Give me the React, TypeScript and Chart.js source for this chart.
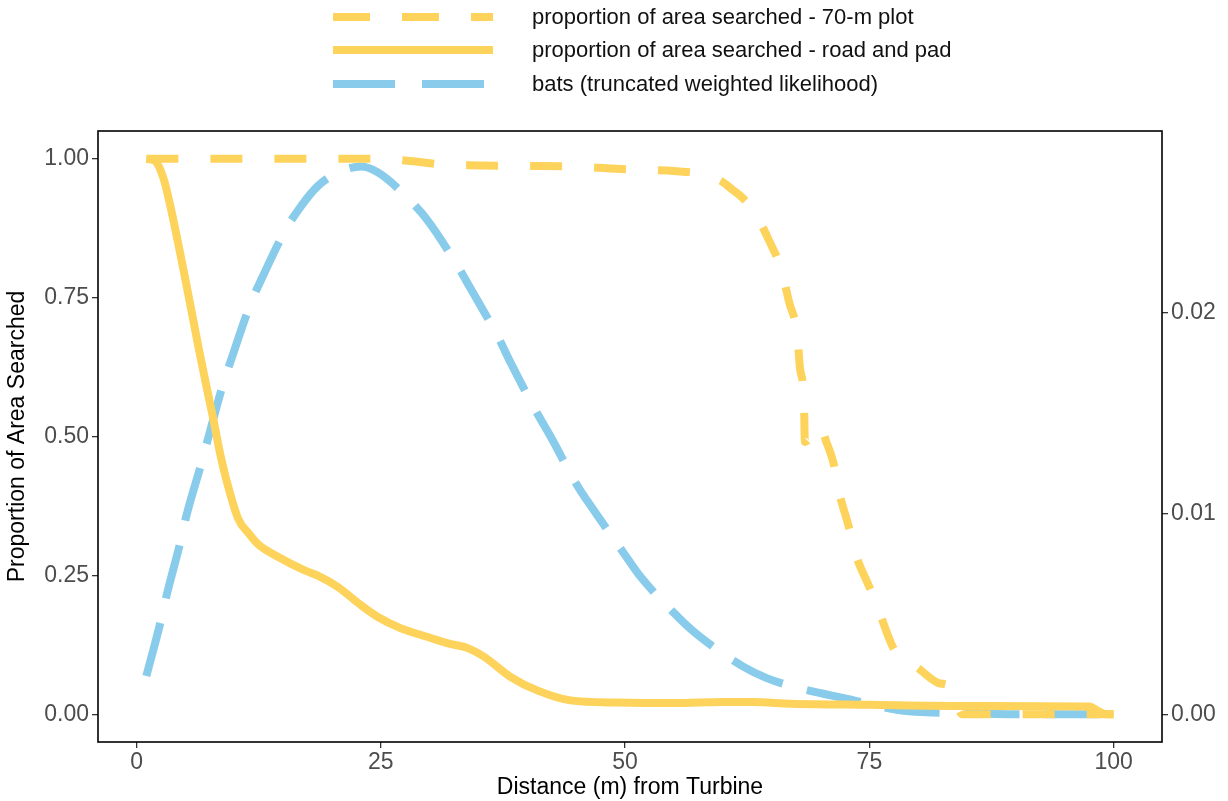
import React, { useEffect, useRef } from "react";
import { Chart, registerables } from "chart.js";

Chart.register(...registerables);

// ---- data -----------------------------------------------------------
const xTicks = [0, 25, 50, 75, 100];
const leftTicks = [0, 0.25, 0.5, 0.75, 1];
const rightTicks = [0, 0.01, 0.02];

const plot70Distance = [
  1, 24, 28, 31, 35, 40, 45, 50, 55, 58, 60, 61, 62, 63.2, 64.7, 66.0, 66.8,
  67.6, 67.9, 68.3, 68.4, 69.0, 69.9, 70.6, 71.3, 71.9, 72.9, 73.7, 75.0, 76.2,
  77.4, 78.3, 79.8, 82.1, 83.2, 83.9, 84.5, 100,
];
const plot70Proportion = [
  1, 1, 0.996, 0.99, 0.988, 0.987, 0.986, 0.981, 0.978, 0.972, 0.958, 0.944,
  0.93, 0.905, 0.854, 0.8, 0.741, 0.686, 0.623, 0.566, 0.49, 0.5, 0.52, 0.49,
  0.454, 0.4, 0.337, 0.283, 0.229, 0.175, 0.121, 0.1, 0.085, 0.056, 0.05, 0.02,
  0, 0,
];

const roadDistance = [
  1, 1.9, 2.8, 3.6, 5.0, 6.3, 7.0, 7.9, 8.6, 9.1, 10.4, 11.5, 12.5, 14.5, 17.2,
  18.5, 20.6, 22.7, 24.7, 27, 29.8, 32, 33.9, 35.6, 38.3, 41.0, 44.4, 49.2, 55,
  60, 63, 67, 75, 85, 97.5, 98.6, 99.3, 100,
];
const roadProportion = [
  1, 0.996, 0.962, 0.903, 0.782, 0.664, 0.603, 0.527, 0.465, 0.428, 0.352,
  0.325, 0.305, 0.283, 0.259, 0.25, 0.229, 0.2, 0.175, 0.155, 0.139, 0.127,
  0.119, 0.103, 0.067, 0.043, 0.025, 0.021, 0.02, 0.022, 0.022, 0.019, 0.017,
  0.015, 0.014, 0.004, 0, 0,
];

const batsDistance = [
  1, 2.45, 3.06, 4.49, 5.1, 6.63, 7.35, 8.88, 9.7, 11.7, 12.8, 15.2, 16.8, 18.5,
  20.6, 23, 24.7, 28.0, 29.8, 32.9, 34.2, 37.1, 38.3, 41.0, 42.3, 45.1, 46.6,
  49.9, 51.5, 55.3, 57.3, 62, 64.5, 67, 70, 72.4, 78.1, 80.8, 86.2, 90, 100,
];
const batsLikelihood = [
  0.0019, 0.0046, 0.0059, 0.0086, 0.0099, 0.0125, 0.0138, 0.0165, 0.0177,
  0.0205, 0.0217, 0.0241, 0.0253, 0.0263, 0.027, 0.0273, 0.027, 0.0256, 0.0246,
  0.0223, 0.0212, 0.0187, 0.0175, 0.015, 0.0139, 0.0114, 0.0103, 0.008, 0.0069,
  0.0049, 0.004, 0.0024, 0.0018, 0.0014, 0.00105, 0.0008, 0.0002, 0.0001,
  0.00003, 0, 0,
];

const legendLabels = [
  "proportion of area searched - 70-m plot",
  "proportion of area searched - road and pad",
  "bats (truncated weighted likelihood)",
];

// ---- styling --------------------------------------------------------
const YELLOW = "#FDD35B";
const BLUE = "#88CBEA";
const FONT = "'Liberation Sans', Arial, Helvetica, sans-serif";
const W = 1228;
const H = 801;

const X_MIN = -3.95;
const X_MAX = 104.95;
const Y_MIN = -0.05;
const Y_MAX = 1.05;
const RIGHT_FACTOR = 555 / 20050;

const toPoints = (xs: number[], ys: number[]) =>
  xs.map((x, i) => ({ x, y: ys[i] }));

const legendItems = [
  { label: legendLabels[0], color: YELLOW, dash: [37, 32] },
  { label: legendLabels[1], color: YELLOW, dash: [] as number[] },
  { label: legendLabels[2], color: BLUE, dash: [62, 27] },
];

const framePlugin = {
  id: "frame",
  afterDatasetsDraw(chart: any) {
    const { ctx, chartArea } = chart;
    ctx.save();
    ctx.strokeStyle = "#000";
    ctx.lineWidth = 1.6;
    ctx.strokeRect(
      chartArea.left,
      chartArea.top,
      chartArea.right - chartArea.left,
      chartArea.bottom - chartArea.top
    );
    ctx.restore();
  },
};

const legendPlugin = {
  id: "customLegend",
  afterDraw(chart: any) {
    const { ctx } = chart;
    ctx.save();
    const rows = [17, 50, 84];
    legendItems.forEach((item, i) => {
      const y = rows[i];
      ctx.beginPath();
      ctx.setLineDash(item.dash);
      ctx.lineDashOffset = 0;
      ctx.lineCap = "butt";
      ctx.lineWidth = 8;
      ctx.strokeStyle = item.color;
      ctx.moveTo(333, y);
      ctx.lineTo(493, y);
      ctx.stroke();
      ctx.setLineDash([]);
      ctx.fillStyle = "#111";
      ctx.font = `22px ${FONT}`;
      ctx.textBaseline = "middle";
      ctx.textAlign = "left";
      ctx.fillText(item.label, 532, y + 1);
    });
    ctx.restore();
  },
};

export default function App() {
  const ref = useRef<HTMLCanvasElement | null>(null);

  useEffect(() => {
    if (!ref.current) return;
    const tickGrid = {
      display: true,
      drawOnChartArea: false,
      drawTicks: true,
      tickLength: 6,
      color: "#333333",
      lineWidth: 1.3,
    };
    const chart = new Chart(ref.current, {
      type: "line",
      data: {
        datasets: [
          {
            label: legendLabels[1],
            data: toPoints(roadDistance, roadProportion),
            borderColor: YELLOW,
            borderWidth: 8,
            pointRadius: 0,
            cubicInterpolationMode: "monotone",
            yAxisID: "y",
            order: 0,
            borderCapStyle: "butt",
            borderJoinStyle: "round",
          },
          {
            label: legendLabels[0],
            data: toPoints(plot70Distance, plot70Proportion),
            borderColor: YELLOW,
            borderWidth: 8,
            borderDash: [32, 32],
            pointRadius: 0,
            cubicInterpolationMode: "monotone",
            yAxisID: "y",
            order: 1,
            borderCapStyle: "butt",
            borderJoinStyle: "round",
          },
          {
            label: legendLabels[2],
            data: toPoints(batsDistance, batsLikelihood),
            borderColor: BLUE,
            borderWidth: 8,
            borderDash: [55, 25],
            pointRadius: 0,
            cubicInterpolationMode: "monotone",
            yAxisID: "y2",
            order: 2,
            borderCapStyle: "butt",
            borderJoinStyle: "round",
          },
        ],
      },
      options: {
        animation: false,
        responsive: false,
        maintainAspectRatio: false,
        layout: { padding: { top: 131, left: 0, right: 0, bottom: 0 } },
        plugins: {
          legend: { display: false },
          tooltip: { enabled: false },
        },
        scales: {
          x: {
            type: "linear",
            position: "bottom",
            min: X_MIN,
            max: X_MAX,
            afterFit: (s: any) => {
              s.height = 59;
            },
            afterBuildTicks: (s: any) => {
              s.ticks = xTicks.map((v) => ({ value: v }));
            },
            grid: tickGrid,
            border: { display: false },
            ticks: {
              color: "#4D4D4D",
              font: { family: FONT, size: 23 },
              padding: 1,
              maxRotation: 0,
              autoSkip: false,
              callback: (v: any) => String(v),
            },
            title: {
              display: true,
              text: "Distance (m) from Turbine",
              color: "#000",
              font: { family: FONT, size: 23 },
              padding: { top: 0, bottom: 0 },
            },
          },
          y: {
            type: "linear",
            position: "left",
            min: Y_MIN,
            max: Y_MAX,
            afterFit: (s: any) => {
              s.width = 98;
            },
            afterBuildTicks: (s: any) => {
              s.ticks = leftTicks.map((v) => ({ value: v }));
            },
            grid: tickGrid,
            border: { display: false },
            ticks: {
              color: "#4D4D4D",
              font: { family: FONT, size: 23 },
              padding: 3,
              autoSkip: false,
              callback: (v: any) => Number(v).toFixed(2),
            },
            title: {
              display: true,
              text: "Proportion of Area Searched",
              color: "#000",
              font: { family: FONT, size: 23 },
              padding: { top: 4, bottom: 0 },
            },
          },
          y2: {
            type: "linear",
            position: "right",
            min: Y_MIN * RIGHT_FACTOR,
            max: Y_MAX * RIGHT_FACTOR,
            afterFit: (s: any) => {
              s.width = 66;
            },
            afterBuildTicks: (s: any) => {
              s.ticks = rightTicks.map((v) => ({ value: v }));
            },
            grid: tickGrid,
            border: { display: false },
            ticks: {
              color: "#4D4D4D",
              font: { family: FONT, size: 23 },
              padding: 3,
              autoSkip: false,
              callback: (v: any) => Number(v).toFixed(2),
            },
          },
        },
      },
      plugins: [framePlugin, legendPlugin],
    } as any);
    return () => chart.destroy();
  }, []);

  return (
    <div
      style={{
        position: "fixed",
        left: 0,
        top: 0,
        width: W,
        height: H,
        background: "#fff",
      }}
    >
      <canvas ref={ref} width={W} height={H} style={{ width: W, height: H }} />
    </div>
  );
}
